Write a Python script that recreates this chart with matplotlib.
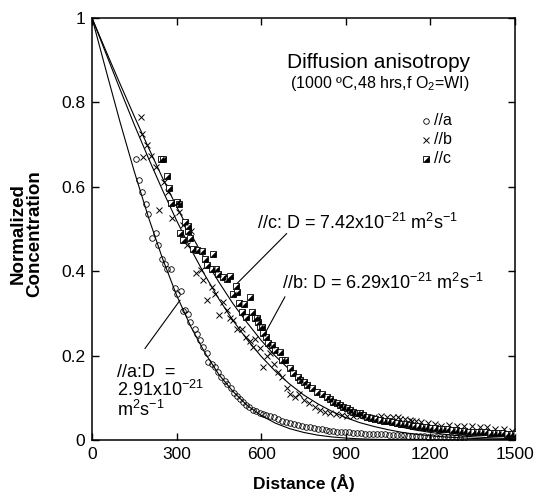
import matplotlib
matplotlib.use("Agg")
import matplotlib.pyplot as plt

plt.rcParams['font.family'] = ['Liberation Sans', 'DejaVu Sans']
plt.rcParams['mathtext.fontset'] = 'custom'
plt.rcParams['mathtext.rm'] = 'Liberation Sans'
plt.rcParams['mathtext.it'] = 'Liberation Sans:italic'
plt.rcParams['mathtext.bf'] = 'Liberation Sans:bold'

# ---------------- data ----------------
fit_x = [0, 50, 100, 150, 200, 250, 300, 350, 400, 450, 500, 550, 600, 650, 700,
         750, 800, 850, 900, 950, 1000, 1050, 1100, 1150, 1200, 1250, 1300, 1350,
         1400, 1450, 1500]
fit_a = [1, .875, .752, .636, .528, .430, .343, .269, .207, .155, .115, .082, .058,
         .040, .027, .018, .0115, .0073, .0045, .0027, .0016, .0009, .0005, .0003,
         .0001, .0001, 0, 0, 0, 0, 0]
fit_b = [1, .915, .830, .747, .668, .592, .520, .453, .391, .334, .283, .238, .198,
         .163, .133, .107, .086, .068, .053, .041, .032, .0244, .018, .0135, .0098,
         .0073, .0052, .0037, .0026, .0019, .0013]
fit_c = [1, .921, .843, .767, .693, .621, .553, .489, .429, .374, .323, .278, .236,
         .199, .167, .139, .114, .093, .075, .060, .048, .038, .030, .0232, .018,
         .0135, .010, .0077, .0057, .0042, .003]

a_x = [156, 168, 178, 191, 200, 212, 226, 235, 247, 259, 267, 280, 294, 302, 315,
       324, 330, 341, 348, 365, 371, 383, 395, 407, 412, 425, 435, 448, 458, 470,
       480, 492, 503, 515, 524, 535, 546, 558, 570, 582, 594, 606, 618, 630, 646,
       660, 674, 688, 702, 716, 730, 744, 758, 772, 786, 800, 814, 828, 842, 856,
       870, 884, 898, 912, 926, 940, 954, 968, 982, 996, 1010, 1024, 1038, 1052,
       1066, 1080, 1094, 1108, 1122, 1136, 1150, 1164, 1178, 1192, 1206, 1220,
       1234, 1248, 1262, 1276, 1290, 1304, 1318]
a_y = [.666, .615, .587, .56, .536, .479, .49, .461, .43, .418, .406, .406, .361,
       .347, .353, .306, .307, .299, .280, .264, .252, .236, .221, .205, .185, .18,
       .172, .16, .15, .14, .132, .122, .112, .105, .096, .09, .083, .078, .072,
       .068, .064, .062, .06, .058, .055, .05, .046, .043, .04, .037, .035, .033,
       .031, .03, .028, .027, .025, .024, .022, .021, .02, .019, .018, .018, .017,
       .016, .016, .015, .015, .014, .014, .013, .013, .012, .012, .011, .011,
       .011, .01, .01, .009, .009, .009, .008, .008, .007, .007, .007, .006, .006,
       .006, .005, .005]

b_x = [172, 176, 182, 195, 209, 227, 239, 255, 268, 283, 309, 322, 338, 351, 368,
       385, 395, 407, 424, 436, 451, 466, 478, 490, 501, 513, 531, 545, 560, 572,
       578, 596, 607, 620, 631, 645, 660, 675, 690, 702, 720, 735, 750, 770, 790,
       808, 826, 845, 865, 885, 905, 925, 950, 975, 1000, 1025, 1045, 1068, 1085,
       1092, 1110, 1127, 1134, 1150, 1165, 1190, 1215, 1238, 1265, 1293, 1320,
       1348, 1375, 1402, 1430, 1460, 1490]
b_y = [.765, .725, .671, .70, .674, .646, .545, .611, .587, .526, .540, .51, .461,
       .496, .396, .402, .38, .331, .362, .347, .296, .327, .307, .29, .284, .264,
       .264, .245, .235, .221, .240, .219, .173, .2, .205, .18, .16, .15, .122,
       .110, .102, .11, .095, .088, .078, .072, .067, .065, .062, .06, .058, .057,
       .056, .055, .054, .056, .055, .055, .054, .05, .05, .048, .046, .044, .042,
       .04, .037, .034, .035, .034, .032, .034, .03, .030, .027, .025, .022]

c_x = [245, 253, 265, 273, 280, 300, 310, 312, 322, 330, 339, 341, 348, 359, 373,
       389, 401, 409, 424, 428, 440, 448, 463, 478, 489, 501, 510, 513, 522, 531,
       539, 546, 560, 566, 578, 584, 590, 596, 602, 607, 617, 625, 637, 649, 667,
       673, 684, 702, 714, 732, 738, 750, 761, 779, 797, 815, 832, 845, 856, 868,
       879, 891, 903, 915, 927, 938, 950, 962, 974, 990, 1005, 1020, 1035, 1050,
       1065, 1080, 1095, 1110, 1125, 1140, 1155, 1170, 1185, 1200, 1215, 1230,
       1245, 1260, 1275, 1290, 1305, 1320, 1335, 1350, 1365, 1380, 1395, 1410,
       1425, 1440, 1455, 1470, 1485, 1500]
c_y = [.665, .666, .626, .597, .561, .563, .559, .490, .473, .516, .495, .506,
       .479, .453, .451, .449, .430, .414, .406, .441, .406, .394, .386, .382,
       .388, .347, .364, .351, .325, .303, .323, .292, .339, .303, .288, .288,
       .280, .268, .268, .254, .244, .229, .225, .213, .209, .189, .189, .170,
       .158, .150, .142, .138, .130, .122, .114, .110, .102, .097, .091, .087,
       .083, .079, .075, .071, .067, .065, .063, .059, .055, .053, .05, .048,
       .046, .044, .042, .04, .039, .037, .036, .034, .033, .031, .03, .029,
       .028, .027, .026, .025, .024, .023, .022, .021, .02, .02, .019, .018,
       .018, .017, .017, .016, .016, .015, .015, .014]

x_ticks = [0, 300, 600, 900, 1200, 1500]
y_ticks = [0, 0.2, 0.4, 0.6, 0.8, 1]
y_ticklabels = ["0", "0.2", "0.4", "0.6", "0.8", "1"]
series_labels = ["//a", "//b", "//c"]

# ---------------- figure ----------------
fig = plt.figure(figsize=(5.39, 4.98), dpi=100)
ax = fig.add_axes([0.1707, 0.1165, 0.7848, 0.8474])

lw_fit = 0.8
ax.plot(fit_x, fit_a, color='black', lw=lw_fit, zorder=2)
ax.plot(fit_x, fit_b, color='black', lw=lw_fit, zorder=2)
ax.plot(fit_x, fit_c, color='black', lw=lw_fit, zorder=2)

ms = 4.0
ax.plot(a_x, a_y, linestyle='none', marker='o', ms=ms, mfc='none', mec='black',
        mew=0.6, zorder=3)
ax.plot(b_x, b_y, linestyle='none', marker='x', ms=ms, mec='black', mew=0.7,
        zorder=3)
ax.plot(c_x, c_y, linestyle='none', marker='s', ms=ms, mfc='white', mec='black',
        mew=0.6, zorder=3)
tri = [(1, 1), (1, -1), (-1, -1), (1, 1)]
ax.plot(c_x, c_y, linestyle='none', marker=tri, ms=ms, mfc='black', mec='black',
        mew=0.2, zorder=4)

ax.set_xlim(0, 1500)
ax.set_ylim(0, 1)
ax.set_xticks(x_ticks)
ax.set_yticks(y_ticks)
ax.set_yticklabels(y_ticklabels)
ax.tick_params(direction='in', length=5, width=1, top=True, right=True,
               labelsize=12.5, pad=5)
for s in ax.spines.values():
    s.set_linewidth(1.1)

ax.set_xlabel("Distance (Å)", fontsize=12.5, fontweight='bold', labelpad=9)
ax.set_ylabel("Normalized\nConcentration", fontsize=13.5, fontweight='bold',
              linespacing=0.95)
ax.yaxis.set_label_coords(-0.115, 0.49)

# title block
ax.text(1340, 0.895, "Diffusion anisotropy", fontsize=15, ha='right', va='center')
ax.text(1340, 0.845, "(1000 ºC,48 hrs,f O$_2$=WI)", fontsize=11.5, ha='right',
        va='center')

# legend (manual)
leg_y = [0.757, 0.711, 0.667]
ax.plot([1185], [leg_y[0]], marker='o', ms=ms, mfc='none', mec='black', mew=0.6)
ax.plot([1185], [leg_y[1]], marker='x', ms=ms, mec='black', mew=0.7)
ax.plot([1185], [leg_y[2]], marker='s', ms=ms, mfc='white', mec='black', mew=0.6)
ax.plot([1185], [leg_y[2]], marker=tri, ms=ms, mfc='black', mec='black', mew=0.2)
for yy, lab in zip(leg_y, series_labels):
    ax.text(1212, yy, lab, fontsize=11.5, ha='left', va='center')

# annotations
ann_fs = 13
ax.text(585, 0.515, "//c: D = 7.42x10$^{-21}$ m$^{2}$s$^{-1}$", fontsize=ann_fs,
        ha='left', va='center')
ax.plot([690, 513], [0.489, 0.370], color='black', lw=0.8)

ax.text(674, 0.373, "//b: D = 6.29x10$^{-21}$ m$^{2}$s$^{-1}$", fontsize=ann_fs,
        ha='left', va='center')
ax.plot([684, 613], [0.339, 0.252], color='black', lw=0.8)

ax.text(90, 0.161, "//a:D  =", fontsize=ann_fs, ha='left', va='center')
ax.text(90, 0.118, "2.91x10$^{-21}$", fontsize=ann_fs, ha='left', va='center')
ax.text(90, 0.072, "m$^{2}$s$^{-1}$", fontsize=ann_fs, ha='left', va='center')
ax.plot([188, 312], [0.217, 0.331], color='black', lw=0.8)

fig.savefig("out.png", dpi=100)
